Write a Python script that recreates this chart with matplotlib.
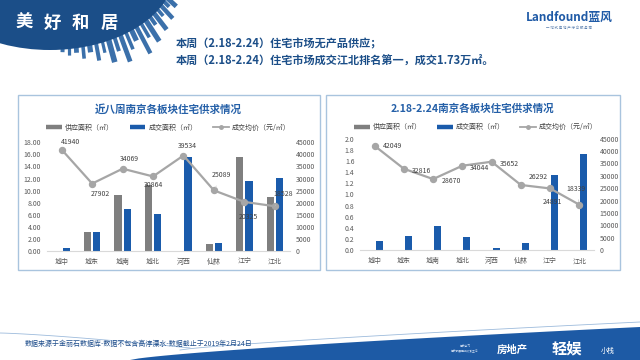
import numpy as np
import matplotlib
matplotlib.use("Agg")
import matplotlib.pyplot as plt
from matplotlib.patches import Rectangle, Ellipse, Polygon
from matplotlib.lines import Line2D

plt.rcParams['font.family'] = ['Noto Sans CJK SC', 'DejaVu Sans']

# ---------------- data ----------------
categories = ['城中', '城东', '城南', '城北', '河西', '仙林', '江宁', '江北']
left_supply = [0, 3.2, 9.2, 11.0, 0, 1.2, 15.5, 9.0]
left_sales = [0.45, 3.1, 7.0, 6.2, 15.5, 1.4, 11.6, 12.1]
left_price = [41940, 27902, 34069, 30864, 39534, 25089, 20325, 18528]
right_supply = [0, 0, 0, 0, 0, 0, 0, 0]
right_sales = [0.16, 0.25, 0.44, 0.24, 0.04, 0.13, 1.35, 1.73]
right_price = [42049, 32816, 28670, 34044, 35652, 26292, 24891, 18339]
left_title = '近八周南京各板块住宅供求情况'
right_title = '2.18-2.24南京各板块住宅供求情况'
legend_labels = ['供应面积（㎡）', '成交面积（㎡）', '成交均价（元/㎡）']
left_yticks = [0, 2, 4, 6, 8, 10, 12, 14, 16, 18]
right_yticks = [0.0, 0.2, 0.4, 0.6, 0.8, 1.0, 1.2, 1.4, 1.6, 1.8, 2.0]
price_ticks = [0, 5000, 10000, 15000, 20000, 25000, 30000, 35000, 40000, 45000]
headline1 = '本周（2.18-2.24）住宅市场无产品供应；'
headline2 = '本周（2.18-2.24）住宅市场成交江北排名第一，成交1.73万㎡。'
source_note = '数据来源于金丽石数据库-数据不包含高淳溧水-数据截止于2019年2月24日'

# label offsets in pixels (dx, dy)
left_offsets = [(9, 8), (8, -10), (7, 10), (0, -9), (4, 10), (8, 15), (4, -15), (8, 12)]
right_offsets = [(18, 0), (18, -2), (18, -2), (17, -2), (18, -2), (17, 8), (2, -14), (-3, 16)]

GRAY = '#7f7f7f'
BLUE = '#1a5bab'
LGRAY = '#a6a6a6'
TITLE_BLUE = '#2560a8'
DARK_BLUE = '#1b4e88'

fig = plt.figure(figsize=(6.4, 3.6), dpi=100)

# ---------------- decoration layer ----------------
bg = fig.add_axes([0, 0, 1, 1], zorder=0)
bg.set_xlim(0, 640)
bg.set_ylim(360, 0)
bg.axis('off')

# skyline buildings hanging from header shape
cx, cy, rx, ry = 50, -30, 125, 80
lengths = [5, 9, 7, 14, 9, 19, 13, 25, 16, 30, 20, 14, 32, 18, 27, 12, 23, 11, 20, 10, 16, 9]
widths = [2.0, 1.6, 2.4, 1.8, 2.6, 2.0, 1.6, 2.8, 2.0, 2.4, 1.8, 2.6, 2.2, 1.8, 2.6, 2.0, 2.4, 1.8, 2.2, 2.0, 2.4, 1.8]
base_t = np.linspace(np.deg2rad(84), np.deg2rad(16), len(lengths))
dir_a = np.linspace(np.deg2rad(92), np.deg2rad(40), len(lengths))
for t, a, L, w in zip(base_t, dir_a, lengths, widths):
    bx = cx + rx * np.cos(t) * 0.97
    by = cy + ry * np.sin(t) * 0.97
    d = np.array([np.cos(a), np.sin(a)])
    n = np.array([-d[1], d[0]])
    pts = [(bx - n[0] * w, by - n[1] * w), (bx + n[0] * w, by + n[1] * w),
           (bx + n[0] * w + d[0] * L, by + n[1] * w + d[1] * L),
           (bx - n[0] * w + d[0] * L, by - n[1] * w + d[1] * L)]
    bg.add_patch(Polygon(pts, closed=True, facecolor='#3b70aa', edgecolor='none', zorder=1))

bg.add_patch(Ellipse((cx, cy), 2 * rx, 2 * ry, facecolor=DARK_BLUE, edgecolor='none', zorder=2))
for i, ch in enumerate('美好和居'):
    bg.text(24 + i * 28.3, 23, ch, color='white', fontsize=12.5, fontweight='bold',
            ha='center', va='center', zorder=3)

# logo
bg.text(569, 17, 'Landfound蓝风', color='#1f5aa6', fontsize=8.5, fontweight='bold',
        style='italic', ha='center', va='center', zorder=3)
bg.text(569, 28, '一 站 式 房 地 产 综 合 服 务 商', color='#5a7fae', fontsize=2.5,
        ha='center', va='center', zorder=3)

# headline
bg.text(176, 44, headline1, color=DARK_BLUE, fontsize=8, fontweight='bold',
        ha='left', va='center', zorder=3)
bg.text(176, 61, headline2, color=DARK_BLUE, fontsize=8, fontweight='bold',
        ha='left', va='center', zorder=3)

# panels
bg.add_patch(Rectangle((18, 95), 302, 175, facecolor='white', edgecolor='#a9c4de', lw=1, zorder=1))
bg.add_patch(Rectangle((326, 95), 294, 175, facecolor='white', edgecolor='#a9c4de', lw=1, zorder=1))
bg.text(168, 109, left_title, color=TITLE_BLUE, fontsize=7.6, fontweight='bold',
        ha='center', va='center', zorder=3)
bg.text(472, 109, right_title, color=TITLE_BLUE, fontsize=7.6, fontweight='bold',
        ha='center', va='center', zorder=3)

# footer swoosh
xs = np.linspace(130, 640, 60)
ys = 360 - 33 * ((xs - 130) / 510) ** 0.75
bg.add_patch(Polygon(list(zip(xs, ys)) + [(640, 360), (130, 360)], closed=True,
                     facecolor='#1d5aa5', edgecolor='none', zorder=1))
lx = np.linspace(0, 190, 40)
ly = 333 + 15 * (lx / 190) ** 1.3
bg.plot(lx, ly, color='#9dbbdc', lw=0.6, zorder=1)
x2 = np.linspace(180, 640, 50)
y2 = 350 - 28 * ((x2 - 180) / 460) ** 0.8
bg.plot(x2, y2, color='#9dbbdc', lw=0.6, zorder=1)
bg.text(25, 344, source_note, color='#1f4e8c', fontsize=5, ha='left', va='center', zorder=3)
bg.text(512, 350, '房地产', color='white', fontsize=7.5, fontweight='bold',
        ha='center', va='center', zorder=3)
bg.text(567, 348, '轻娱', color='white', fontsize=11, fontweight='bold',
        ha='center', va='center', zorder=3)
bg.text(608, 351, '小栈', color='white', fontsize=5, ha='center', va='center', zorder=3)
bg.text(465, 349, '每天学习\n每天都要更加热爱生活', color='#c8d8ee', fontsize=2, ha='center',
        va='center', zorder=3)


# ---------------- charts ----------------
def make_chart(rect, supply, sales, price, yticks, yfmt, offsets, legend_anchor, leaders):
    ax = fig.add_axes(rect, zorder=2)
    ax.set_facecolor('none')
    x = np.arange(len(categories))
    w = 0.24
    ax.bar(x - 0.15, supply, width=w, color=GRAY, zorder=2)
    ax.bar(x + 0.15, sales, width=w, color=BLUE, zorder=2)
    ax.set_xlim(-0.5, len(categories) - 0.5)
    ax.set_ylim(yticks[0], yticks[-1])
    ax.set_yticks(yticks)
    ax.set_yticklabels([yfmt.format(v) for v in yticks])
    ax.set_xticks(x)
    ax.set_xticklabels(categories)
    for s in ['top', 'left', 'right']:
        ax.spines[s].set_visible(False)
    ax.spines['bottom'].set_color('#d9d9d9')
    ax.spines['bottom'].set_linewidth(0.8)
    ax.tick_params(axis='both', length=0, labelsize=5, colors='#595959', pad=4)
    ax.tick_params(axis='x', pad=5)

    ax2 = ax.twinx()
    ax2.set_zorder(3)
    ax2.plot(x, price, color=LGRAY, lw=1.6, marker='o', markersize=4.3,
             markerfacecolor=LGRAY, markeredgecolor=LGRAY, zorder=3)
    ax2.set_ylim(price_ticks[0], price_ticks[-1])
    ax2.set_yticks(price_ticks)
    ax2.set_yticklabels([str(v) for v in price_ticks])
    for s in ['top', 'left', 'right', 'bottom']:
        ax2.spines[s].set_visible(False)
    ax2.tick_params(axis='y', length=0, labelsize=5, colors='#595959', pad=4)
    for i, (xi, p) in enumerate(zip(x, price)):
        dx, dy = offsets[i]
        kw = {}
        if i in leaders:
            kw['arrowprops'] = dict(arrowstyle='-', color='#bfbfbf', lw=0.4,
                                    shrinkA=3, shrinkB=2)
        ax2.annotate(str(p), (xi, p), xytext=(dx, dy), textcoords='offset pixels',
                     ha='center', va='center', fontsize=5, color='#404040', zorder=4, **kw)

    handles = [Line2D([], [], color=GRAY, lw=3.2, solid_capstyle='butt'),
               Line2D([], [], color=BLUE, lw=3.2, solid_capstyle='butt'),
               Line2D([], [], color=LGRAY, lw=1.3, marker='o', markersize=2.5)]
    ax.legend(handles, legend_labels, ncol=3, loc='center', bbox_to_anchor=legend_anchor,
              frameon=False, fontsize=5, handlelength=2.3, handletextpad=0.4,
              columnspacing=2.2, labelcolor='#404040')
    return ax, ax2


make_chart([46.5 / 640, 1 - 251 / 360, 243.5 / 640, 108.7 / 360],
           left_supply, left_sales, left_price, left_yticks, '{:.2f}',
           left_offsets, (0.50, 1.134), [5, 6, 7])
make_chart([360 / 640, 1 - 250.3 / 360, 234 / 640, 111.8 / 360],
           right_supply, right_sales, right_price, right_yticks, '{:.1f}',
           right_offsets, (0.496, 1.10), [6, 7])

fig.savefig('out.png', dpi=100)
